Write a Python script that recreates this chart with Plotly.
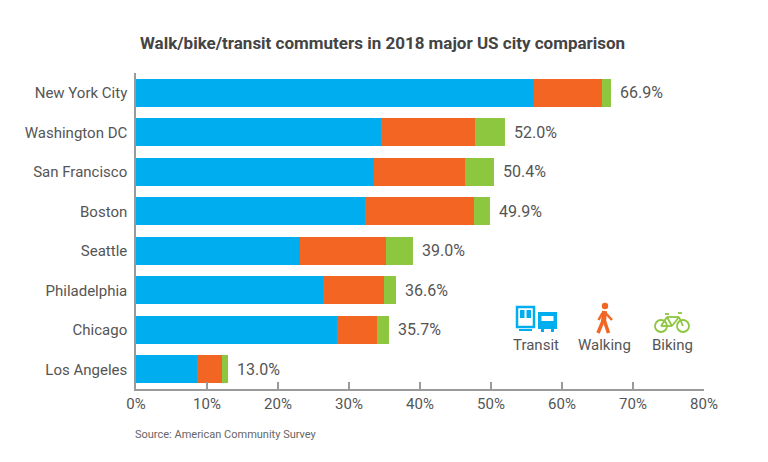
import plotly.graph_objects as go

# Share of commuters (%) by mode
cities = ["New York City", "Washington DC", "San Francisco", "Boston",
          "Seattle", "Philadelphia", "Chicago", "Los Angeles"]
transit = [56.0, 34.5, 33.5, 32.3, 23.1, 26.4, 28.3, 8.6]
walking = [9.6, 13.3, 12.8, 15.3, 12.1, 8.5, 5.6, 3.5]
biking = [1.3, 4.2, 4.1, 2.3, 3.8, 1.7, 1.8, 0.9]
totals = [66.9, 52.0, 50.4, 49.9, 39.0, 36.6, 35.7, 13.0]
tick_vals = [0, 10, 20, 30, 40, 50, 60, 70, 80]
tick_text = ["0%", "10%", "20%", "30%", "40%", "50%", "60%", "70%", "80%"]

BLUE = "#00AEEF"
ORANGE = "#F26522"
GREEN = "#8DC63F"
GRAY = "#555555"
FONT = "Roboto"

# the page body adds an 8px margin, so the figure is drawn 8px smaller
OFF = 8
W, H = 768 - OFF, 462 - OFF
# plot area in page pixels (used to place the hand drawn legend icons)
L, R, T, B = 136, 704, 73, 389


def px(x):
    return (x - L) / (R - L)


def py(y):
    return (B - y) / (B - T)


fig = go.Figure()
for name, vals, col in [("Transit", transit, BLUE),
                        ("Walking", walking, ORANGE),
                        ("Biking", biking, GREEN)]:
    fig.add_trace(go.Bar(y=cities, x=vals, name=name, orientation="h",
                         marker=dict(color=col, line=dict(width=0)),
                         width=0.71, hoverinfo="x+name"))

# total labels at the end of each bar
for c, t in zip(cities, totals):
    fig.add_annotation(x=t, y=c, text=f"{t:.1f}%", showarrow=False,
                       xanchor="left", yanchor="middle", xshift=7,
                       font=dict(family=FONT, size=16, color=GRAY))

# title and source
fig.add_annotation(x=px(382), y=py(43), xref="paper", yref="paper",
                   xanchor="center", yanchor="middle",
                   text="<b>Walk/bike/transit commuters in 2018 major US city comparison</b>",
                   showarrow=False, font=dict(family=FONT, size=17, color="#444444"))
fig.add_annotation(x=px(133), y=py(434), xref="paper", yref="paper",
                   xanchor="left", yanchor="middle",
                   text="Source: American Community Survey", showarrow=False,
                   font=dict(family=FONT, size=11, color="#666666"))

# legend labels
for label, cx in [("Transit", 536), ("Walking", 604), ("Biking", 672)]:
    fig.add_annotation(x=px(cx), y=py(345), xref="paper", yref="paper",
                       xanchor="center", yanchor="middle",
                       text=label, showarrow=False,
                       font=dict(family=FONT, size=15, color=GRAY))

shapes = []


def rect(x0, y0, x1, y1, **kw):
    shapes.append(dict(type="rect", xref="paper", yref="paper",
                       x0=px(x0), x1=px(x1), y0=py(y1), y1=py(y0), **kw))


def line(x0, y0, x1, y1, col, w=2):
    shapes.append(dict(type="line", xref="paper", yref="paper",
                       x0=px(x0), x1=px(x1), y0=py(y0), y1=py(y1),
                       line=dict(color=col, width=w)))


def circle(cx, cy, r, **kw):
    shapes.append(dict(type="circle", xref="paper", yref="paper",
                       x0=px(cx - r), x1=px(cx + r), y0=py(cy + r), y1=py(cy - r), **kw))


# transit icon: train + bus
rect(517, 307, 534, 327, fillcolor="white", line=dict(color=BLUE, width=2.5))
rect(520, 310, 524.5, 318, fillcolor=BLUE, line=dict(width=0))
rect(526.5, 310, 531, 318, fillcolor=BLUE, line=dict(width=0))
line(519, 330, 532, 330, BLUE, 2)
rect(539, 313, 556, 328, fillcolor=BLUE, line=dict(color=BLUE, width=2))
rect(541.5, 316, 553.5, 321, fillcolor="white", line=dict(width=0))
rect(541, 328, 544, 332, fillcolor=BLUE, line=dict(width=0))
rect(551, 328, 554, 332, fillcolor=BLUE, line=dict(width=0))

# walking icon
circle(605, 306, 3.2, fillcolor=ORANGE, line=dict(width=0))
line(604.5, 311, 603.5, 322, ORANGE, 5)
line(603, 321, 598, 333, ORANGE, 3.5)
line(604.5, 321, 608.5, 333, ORANGE, 3.5)
line(605.5, 313, 612, 320, ORANGE, 2.5)
line(602.5, 313, 598.5, 320, ORANGE, 2.5)

# bike icon
circle(661, 326, 6, fillcolor="rgba(0,0,0,0)", line=dict(color=GREEN, width=1.8))
circle(683, 326, 6, fillcolor="rgba(0,0,0,0)", line=dict(color=GREEN, width=1.8))
line(661, 326, 667, 317, GREEN, 1.8)
line(667, 317, 679, 317, GREEN, 1.8)
line(679, 317, 683, 326, GREEN, 1.8)
line(661, 326, 672, 326, GREEN, 1.8)
line(672, 326, 667, 317, GREEN, 1.8)
line(672, 326, 679, 317, GREEN, 1.8)
line(665, 314, 669, 314, GREEN, 1.8)
line(678, 313, 682, 313, GREEN, 1.8)

fig.update_layout(
    barmode="stack",
    width=W, height=H,
    margin=dict(l=L - OFF, r=768 - R, t=T - OFF, b=462 - B),
    paper_bgcolor="white", plot_bgcolor="white",
    showlegend=False,
    shapes=shapes,
    font=dict(family=FONT, color=GRAY),
    xaxis=dict(range=[0, 80], tickvals=tick_vals, ticktext=tick_text,
               showgrid=False, zeroline=False, showline=True,
               linecolor="#9a9a9a", linewidth=1.5,
               ticks="inside", ticklen=7, tickcolor="#9a9a9a", tickwidth=1.5,
               tickfont=dict(family=FONT, size=15, color=GRAY)),
    yaxis=dict(autorange=False, range=[7.5, -0.5], categoryorder="array",
               categoryarray=cities, showgrid=False, zeroline=False,
               showline=True, linecolor="#9a9a9a", linewidth=1.5,
               ticks="", ticklabelstandoff=4,
               tickfont=dict(family=FONT, size=15, color=GRAY)),
)

fig.write_html("out.html")
